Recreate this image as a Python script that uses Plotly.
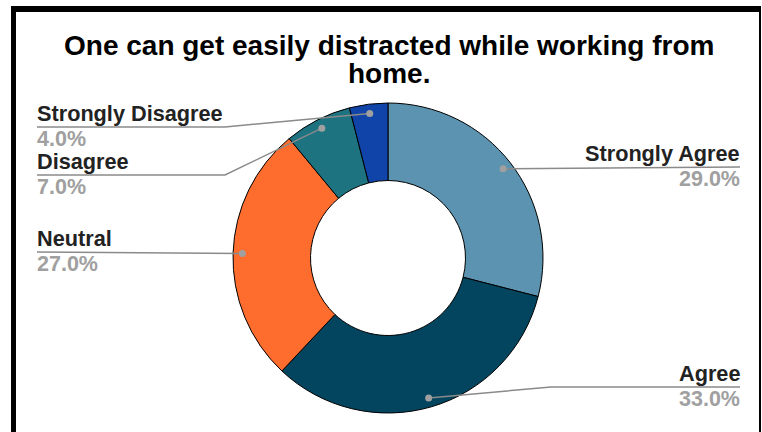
import math
import plotly.graph_objects as go

# Survey responses
categories = ["Strongly Agree", "Agree", "Neutral", "Disagree", "Strongly Disagree"]
shares = [29.0, 33.0, 27.0, 7.0, 4.0]
slice_colors = ["#5b93b0", "#03455f", "#ff6d2e", "#1d7380", "#1144a8"]
title_lines = ["One can get easily distracted while working from", "home."]

W, H = 762, 432
CX, CY, R = 388, 258, 155  # donut centre and radius in px
FONT = "Liberation Sans, Arial, sans-serif"


def px(x):
    return x / W


def py(y):
    return 1 - y / H


fig = go.Figure(go.Pie(
    labels=categories,
    values=shares,
    hole=0.5,
    sort=False,
    direction="clockwise",
    rotation=0,
    marker=dict(colors=slice_colors, line=dict(color="#000000", width=1)),
    textinfo="none",
    hoverinfo="label+percent",
    showlegend=False,
    domain=dict(x=[px(CX - R), px(CX + R)], y=[py(CY + R), py(CY - R)]),
))

# label placement: side, leader-line y, elbow x
label_layout = {
    "Strongly Agree": ("right", 167, None),
    "Agree": ("right", 387, 551),
    "Neutral": ("left", 252, None),
    "Disagree": ("left", 175, 225),
    "Strongly Disagree": ("left", 127, 225),
}
LEFT_X, RIGHT_X = 37, 740

shapes = []
annotations = []
total = sum(shares)
cum = 0.0
for cat, val in zip(categories, shares):
    mid = (cum + val / 2) / total * 2 * math.pi
    cum += val
    dx = CX + 0.94 * R * math.sin(mid)
    dy = CY - 0.94 * R * math.cos(mid)
    side, ly, ex = label_layout[cat]
    end_x = LEFT_X if side == "left" else RIGHT_X
    if ex is None:
        pts = [(dx, dy), (end_x, ly)]
    else:
        pts = [(dx, dy), (ex, ly), (end_x, ly)]
    path = "M " + " L ".join(f"{px(a)},{py(b)}" for a, b in pts)
    shapes.append(dict(type="path", xref="paper", yref="paper", path=path,
                       line=dict(color="#8a8a8a", width=1.5)))
    shapes.append(dict(type="circle", xref="paper", yref="paper",
                       x0=px(dx - 3.5), x1=px(dx + 3.5), y0=py(dy + 3.5), y1=py(dy - 3.5),
                       fillcolor="#a0a0a0", line=dict(width=0)))
    anchor = "left" if side == "left" else "right"
    annotations.append(dict(x=px(end_x), y=py(ly - 1), xref="paper", yref="paper",
                            xanchor=anchor, yanchor="bottom", showarrow=False,
                            borderpad=0, borderwidth=0,
                            text=f"<b>{cat}</b>",
                            font=dict(family=FONT, size=21.7, color="#222222")))
    annotations.append(dict(x=px(end_x), y=py(ly), xref="paper", yref="paper",
                            xanchor=anchor, yanchor="top", showarrow=False,
                            borderpad=0, borderwidth=0,
                            text=f"<b>{val:.1f}%</b>",
                            font=dict(family=FONT, size=21.5, color="#a0a0a0")))

# two-line title, tight line spacing
for i, line in enumerate(title_lines):
    annotations.append(dict(x=px(389), y=py(61 + 28 * i), xref="paper", yref="paper",
                            xanchor="center", yanchor="bottom", showarrow=False,
                            borderpad=0, borderwidth=0,
                            text=f"<b>{line}</b>",
                            font=dict(family=FONT, size=28, color="#000000")))

# outer frame
for x0, x1, y0, y1 in [(11, 16, 6, 432), (11, 761, 6, 12), (759, 761, 6, 432)]:
    shapes.append(dict(type="rect", xref="paper", yref="paper", layer="above",
                       x0=px(x0), x1=px(x1), y0=py(y1), y1=py(y0),
                       fillcolor="#000000", line=dict(width=0)))

fig.update_layout(
    width=W, height=H,
    margin=dict(l=0, r=0, t=0, b=0),
    paper_bgcolor="#ffffff",
    plot_bgcolor="#ffffff",
    shapes=shapes,
    annotations=annotations,
)

fig.write_html("out.html")
